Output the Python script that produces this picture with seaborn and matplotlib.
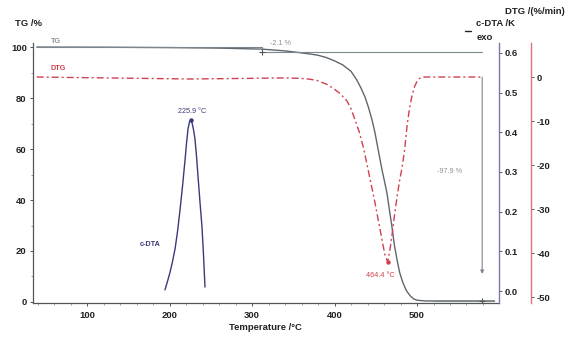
import numpy as np
import pandas as pd
import matplotlib
matplotlib.use("Agg")
import matplotlib.pyplot as plt
from matplotlib.lines import Line2D
from matplotlib.ticker import MultipleLocator
import seaborn as sns

# --- thermogravimetric data -------------------------------------------------
tg_temp = [39, 120, 200, 260, 312, 340, 358, 370, 380, 390, 400, 410, 420, 427,
           432, 437, 441, 445.5, 449, 453, 457.6, 460.5, 463.6, 466.5, 469.7,
           472.5, 475.8, 479, 483, 487, 491.5, 496, 500, 510, 594]
tg_mass = [100.0, 99.95, 99.8, 99.6, 99.2, 98.5, 97.8, 97.3, 96.8, 95.9, 94.6,
           93.0, 90.5, 87.1, 84.0, 80.4, 76.5, 71.4, 66.5, 59.6, 51.8, 47.5,
           42.7, 36.2, 29.4, 22.5, 16.5, 11.5, 7.5, 4.5, 2.5, 1.2, 0.7, 0.4, 0.4]

dtg_temp = [39, 120, 225, 300, 340, 358, 370, 379, 390, 398, 407, 415, 420,
            425, 430, 435, 439, 444, 449, 453, 457.6, 461, 464.4, 467, 470,
            473, 476, 479, 482, 485, 488, 491, 494, 497, 500, 503, 507, 540, 579]
dtg_rate = [0.0, -0.2, -0.45, -0.3, -0.2, -0.3, -0.5, -0.8, -1.6, -2.5, -3.8,
            -5.4, -7.2, -9.8, -12.5, -16.0, -19.5, -24.0, -28.5, -32.5, -37.0,
            -40.3, -42.0, -39.5, -35.5, -31.0, -27.0, -23.4, -20.5, -16.5,
            -11.0, -7.0, -4.2, -2.2, -1.0, -0.3, 0.0, 0.0, 0.0]

cdta_temp = [194.5, 197.5, 200.6, 203.6, 206.7, 209.7, 212.7, 215.8, 218.8,
             220.6, 222.4, 224.2, 225.9, 227.5, 229.2, 230.9, 232.7, 234.5,
             237.0, 239.4, 241.2, 243.0]
cdta_signal = [0.003, 0.024, 0.047, 0.074, 0.106, 0.150, 0.204, 0.265, 0.330,
               0.372, 0.408, 0.426, 0.431, 0.422, 0.405, 0.382, 0.340, 0.290,
               0.222, 0.160, 0.090, 0.010]

cdta_peak_temp = 225.9
dtg_peak_temp = 464.4

# mass-loss steps: temperature of each step and the plateau levels
step_temps = [312.0, 579.0]
step_levels = [100.0, 97.9, 0.0]

x_ticks = [100, 200, 300, 400, 500]
tg_ticks = [0, 20, 40, 60, 80, 100]
cdta_ticks = [0.0, 0.1, 0.2, 0.3, 0.4, 0.5, 0.6]
dtg_ticks = [0, -10, -20, -30, -40, -50]

# --- styling -----------------------------------------------------------------
sns.set_theme(style="white")
plt.rcParams["font.family"] = ["Liberation Sans", "DejaVu Sans"]
plt.rcParams["font.weight"] = "bold"
plt.rcParams["axes.unicode_minus"] = False

TG_COL = "#5f676c"
DTG_COL = "#d0404e"
CDTA_COL = "#3a3a7a"
CDTA_SPINE = "#7a78b0"
DTG_SPINE = "#e0707c"
NOTE_COL = "#8a9298"
FS = 6.8

fig = plt.figure(figsize=(5.76, 3.43), dpi=100)
W, H = 576, 343
left, right, top, bottom = 33, 499, 43, 303
ax = fig.add_axes([left / W, 1 - bottom / H, (right - left) / W, (bottom - top) / H])
ax_c = ax.twinx()
ax_d = ax.twinx()

tg_df = pd.DataFrame({"T": tg_temp, "TG": tg_mass})
dtg_df = pd.DataFrame({"T": dtg_temp, "DTG": dtg_rate})
cdta_df = pd.DataFrame({"T": cdta_temp, "cDTA": cdta_signal})

sns.lineplot(data=tg_df, x="T", y="TG", ax=ax, color=TG_COL, lw=1.0,
             estimator=None, sort=False)
sns.lineplot(data=dtg_df, x="T", y="DTG", ax=ax_d, color=DTG_COL, lw=1.0,
             linestyle=(0, (5, 2.2, 1.4, 2.2)), estimator=None, sort=False)
sns.lineplot(data=cdta_df, x="T", y="cDTA", ax=ax_c, color=CDTA_COL, lw=1.0,
             estimator=None, sort=False)

# peak markers
pk = cdta_signal[cdta_temp.index(cdta_peak_temp)]
ax_c.plot([cdta_peak_temp], [pk], "o", ms=2.2, color=CDTA_COL)
dpk = dtg_rate[dtg_temp.index(dtg_peak_temp)]
ax_d.plot([dtg_peak_temp], [dpk], "o", ms=2.2, color=DTG_COL)

# step evaluation lines
t0, t1 = step_temps
l0, l1, l2 = step_levels
ax.plot([tg_temp[0], t0, t0, t1], [l0, l0, l1, l1], color="#7d868c", lw=0.8)
ax.plot([t0], [l1], marker="+", ms=4, color="#555", mew=0.8)
ax.annotate("", xy=(t1, 11), xytext=(t1, 88.2),
            arrowprops=dict(arrowstyle="-|>", color="#7d868c", lw=0.8,
                            mutation_scale=5, shrinkA=0, shrinkB=0))
ax.plot([t1 - 60, t1 + 14], [0.4, 0.4], color="#7d868c", lw=0.8)
ax.plot([t1], [0.4], marker="+", ms=4, color="#555", mew=0.8)
ax.text(334, 101.3, f"{l1 - l0:.1f} %", color=NOTE_COL, fontsize=5.2,
        fontweight="normal", ha="center", va="center")
ax.text(540, 51, f"{l2 - l1:.1f} %", color=NOTE_COL, fontsize=5.2,
        fontweight="normal", ha="center", va="center")

# curve labels
ax.text(62, 102.2, "TG", color=NOTE_COL, fontsize=5.2, ha="center", va="center")
ax.text(65, 91.4, "DTG", color=DTG_COL, fontsize=5.2, ha="center", va="center")
ax.text(177, 22.4, "c-DTA", color=CDTA_COL, fontsize=5.2, ha="center", va="center")
ax_c.text(cdta_peak_temp + 1, pk + 0.022, f"{cdta_peak_temp} °C", color=CDTA_COL,
          fontsize=5.2, fontweight="normal", ha="center", va="center")
ax_d.text(dtg_peak_temp - 9, dpk - 3.2, f"{dtg_peak_temp} °C", color=DTG_COL,
          fontsize=5.2, fontweight="normal", ha="center", va="center")

# --- axes ----------------------------------------------------------------------
ax.set_xlim(34.5, 599.4)
ax.set_ylim(-0.4, 101.6)
ax_c.set_ylim(-0.0302, 0.6247)
ax_d.set_ylim(-51.36, 7.73)

ax.set_xticks(x_ticks)
ax.set_yticks(tg_ticks)
ax_c.set_yticks(cdta_ticks)
ax_d.set_yticks(dtg_ticks)
ax_c.set_yticklabels([f"{v:.1f}" for v in cdta_ticks])
ax.xaxis.set_minor_locator(MultipleLocator(20))
ax.yaxis.set_minor_locator(MultipleLocator(10))

for a in (ax, ax_c, ax_d):
    a.set_xlabel("")
    a.set_ylabel("")
    a.patch.set_visible(False)
    for s in a.spines.values():
        s.set_visible(False)

ax.spines["left"].set_visible(True)
ax.spines["bottom"].set_visible(True)
ax.spines["left"].set_color("#555")
ax.spines["bottom"].set_color("#555")
ax.spines["left"].set_linewidth(0.9)
ax.spines["bottom"].set_linewidth(0.9)
ax.tick_params(axis="both", which="major", labelsize=FS, length=2.5, width=0.7,
               color="#555", direction="out", pad=2, left=True, bottom=True)
ax.tick_params(axis="both", which="minor", length=1.2, width=0.5, color="#777",
               direction="out", left=True, bottom=True)
ax.tick_params(axis="x", pad=3)

ax_c.spines["right"].set_visible(True)
ax_c.spines["right"].set_color(CDTA_SPINE)
ax_c.spines["right"].set_linewidth(1.0)
ax_c.tick_params(axis="y", labelsize=FS, length=2, width=0.7, color="#555",
                 direction="out", pad=2, right=True)

ax_d.spines["right"].set_visible(True)
ax_d.spines["right"].set_position(("axes", 1 + 32 / (right - left)))
ax_d.spines["right"].set_color(DTG_SPINE)
ax_d.spines["right"].set_linewidth(1.0)
ax_d.tick_params(axis="y", labelsize=FS, length=2, width=0.7, color="#555",
                 direction="out", pad=2, right=True)

for a in (ax, ax_c, ax_d):
    for lab in a.get_xticklabels() + a.get_yticklabels():
        lab.set_fontweight("bold")
        lab.set_color("#222")

# axis titles
fig.text(15 / W, 1 - 23 / H, "TG /%", fontsize=FS, fontweight="bold",
         ha="left", va="center", color="#222")
fig.text(565 / W, 1 - 11 / H, "DTG /(%/min)", fontsize=FS, fontweight="bold",
         ha="right", va="center", color="#222")
fig.text(476 / W, 1 - 24 / H, "c-DTA /K", fontsize=FS, fontweight="bold",
         ha="left", va="center", color="#222")
fig.text(477 / W, 1 - 38 / H, "exo", fontsize=FS, fontweight="bold",
         ha="left", va="center", color="#222")
fig.add_artist(Line2D([465 / W, 471 / W], [1 - 31 / H, 1 - 31 / H],
                      color="#222", lw=1.0, transform=fig.transFigure))
fig.text(265 / W, 1 - 327 / H, "Temperature /°C", fontsize=FS, fontweight="bold",
         ha="center", va="center", color="#222")

fig.savefig("out.png", dpi=100)
